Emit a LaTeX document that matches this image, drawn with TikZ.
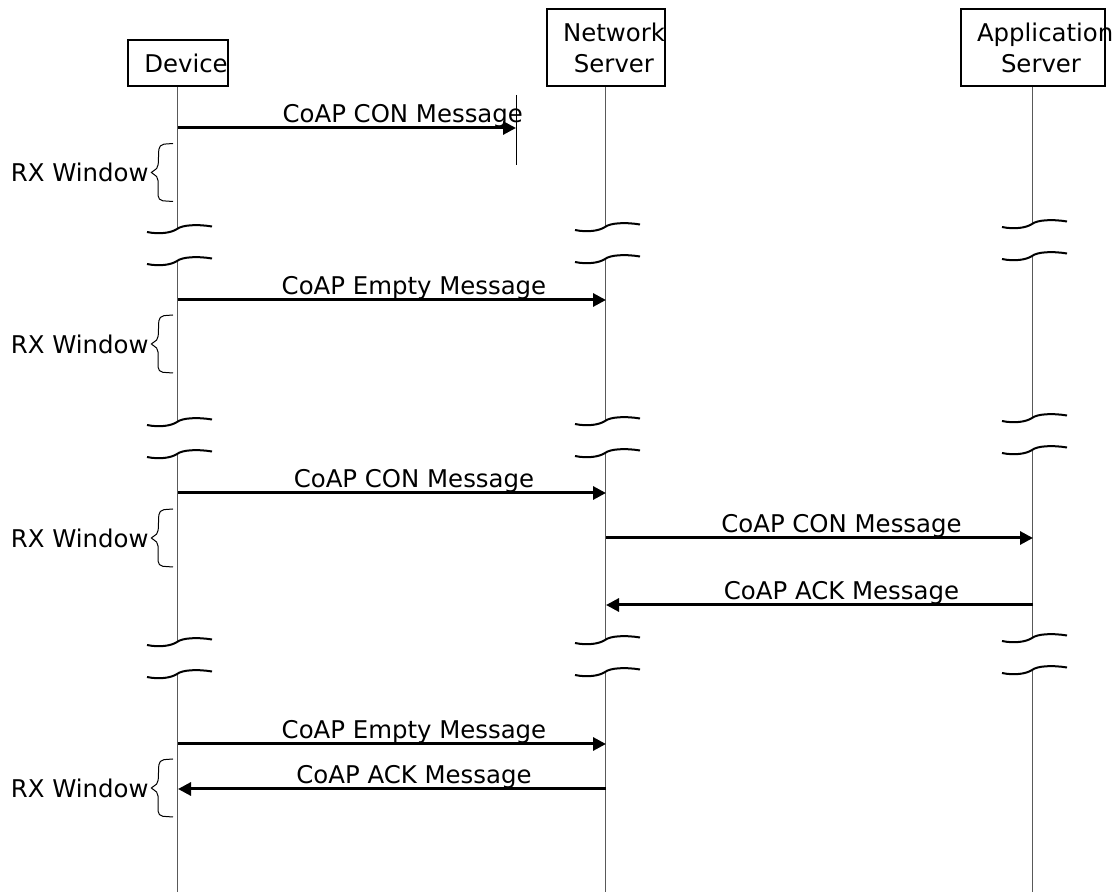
\documentclass[tikz,border=0pt]{standalone}
\usepackage{fontspec}
\setmainfont{DejaVu Sans}
\usetikzlibrary{arrows.meta}

\tikzset{
  actor/.style={draw, line width=1pt, anchor=south, inner xsep=0pt, inner ysep=0pt, align=center},
  life/.style={black!65, line width=0.5pt},
  cut/.style={line width=1pt},
  msg/.style={line width=1.5pt, -{Triangle[length=6.5pt,width=6.5pt]}},
  lbl/.style={anchor=base, inner sep=0pt, yshift=2.5pt, xshift=11pt},
  rxbrace/.style={line width=0.5pt, rounded corners=2.5pt},
}
\newcommand{\pad}{\hspace*{8pt}}

\begin{document}
\begin{tikzpicture}[x=0.5pt, y=-0.5pt, font=\fontsize{12.2}{15.5}\selectfont]
\useasboundingbox (0,0) rectangle (1115,892);

\node[actor, text width=50pt, minimum height=23pt] (dev) at (178,87) {\pad Device};
\node[actor, text width=59pt, minimum height=38.5pt] (ns) at (606,87) {\pad\mbox{Network}\\\pad Server};
\node[actor, text width=72pt, minimum height=38.5pt] (as) at (1033,87) {\pad\mbox{Application}\\\pad Server};

\foreach \n/\x/\a/\b/\c in {dev/177/229/422/642, ns/605/227/421/640, as/1032/224/418/638}{
  \draw[life] (\n.south -| \x,0) -- (\x,\a) (\x,\a+32) -- (\x,\b) (\x,\b+32) -- (\x,\c) (\x,\c+32) -- (\x,892);
  \foreach \y in {\a,\a+32,\b,\b+32,\c,\c+32}
    \draw[cut] (\x-30,\y+3) .. controls (\x-18,\y+5.5) and (\x-6,\y+4) .. (\x,\y)
      .. controls (\x+5,\y-4) and (\x+20,\y-5) .. (\x+35,\y-2.5);
}

\foreach \i/\y in {1/128,2/300,3/493,4/538,5/605,6/744,7/789}
  \coordinate (m\i) at (0,\y);
\coordinate (lost) at (516,95);
\draw[life, black] (lost) -- ++(0,70);

\draw[msg] (dev.south |- m1) -- (lost |- m1) node[lbl, pos=0.6] {CoAP CON Message};
\draw[msg] (dev.south |- m2) -- (ns.south |- m2) node[lbl, midway] {CoAP Empty Message};
\draw[msg] (dev.south |- m3) -- (ns.south |- m3) node[lbl, midway] {CoAP CON Message};
\draw[msg] (ns.south |- m4) -- (as.south |- m4) node[lbl, midway] {CoAP CON Message};
\draw[msg] (as.south |- m5) -- (ns.south |- m5) node[lbl, midway] {CoAP ACK Message};
\draw[msg] (dev.south |- m6) -- (ns.south |- m6) node[lbl, midway] {CoAP Empty Message};
\draw[msg] (ns.south |- m7) -- (dev.south |- m7) node[lbl, midway] {CoAP ACK Message};

\foreach \y in {172.5,344,538,788}
  \draw[rxbrace] (173,\y-29) -- (159,\y-28) -- (158,\y-3) -- (149,\y)
    node[anchor=east, inner sep=0pt] {RX Window} -- (158,\y+3) -- (158,\y+28) -- (173,\y+29);
\end{tikzpicture}
\end{document}
